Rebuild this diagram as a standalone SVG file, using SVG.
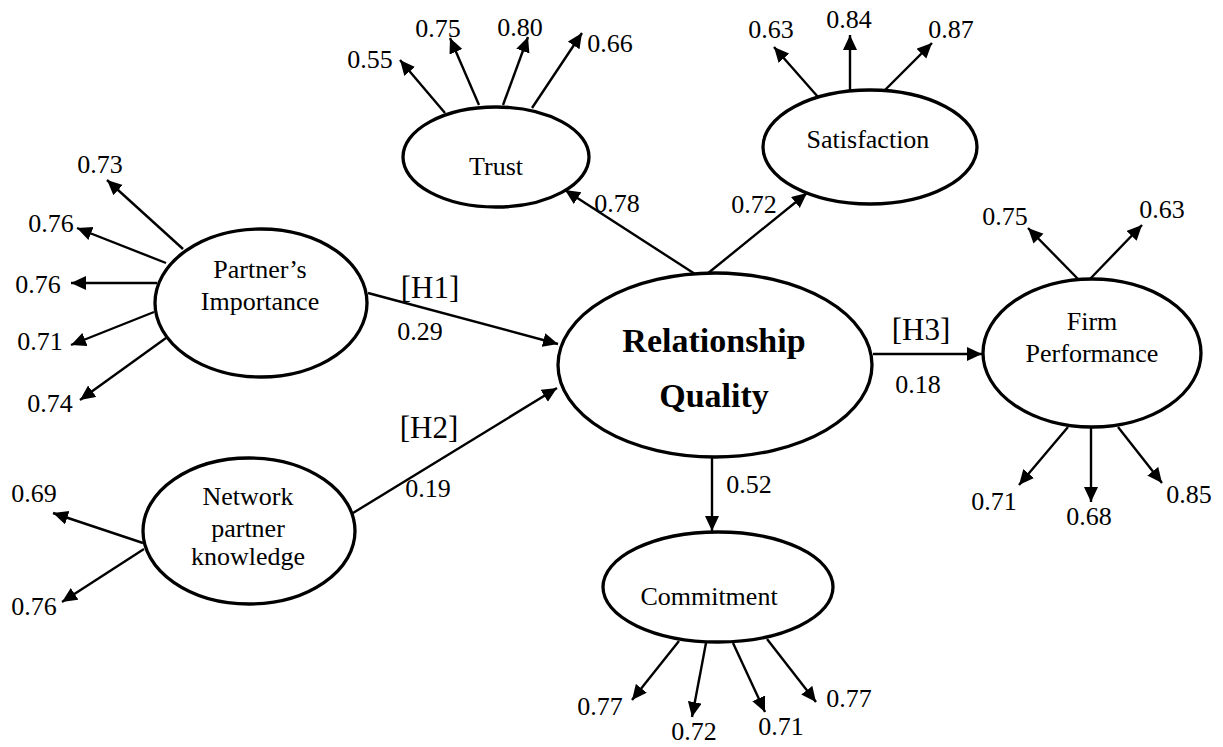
<svg xmlns="http://www.w3.org/2000/svg" width="1223" height="747" viewBox="0 0 1223 747">
<style>
.n{fill:#fff;stroke:#000;stroke-width:3.3}
.t{font-family:"Liberation Serif","Times New Roman",serif;font-size:26px;fill:#000;text-anchor:middle}
.b{font-weight:bold;font-size:34px}
.h{font-size:31px}
.c line{stroke:#000;stroke-width:2.4;marker-end:url(#ah)}
</style>
<defs>
<marker id="ah" markerUnits="userSpaceOnUse" markerWidth="16" markerHeight="15" refX="15" refY="7" orient="auto">
<path d="M0,0 L15,7 L0,14 z" fill="#000"/>
</marker>
</defs>
<rect width="1223" height="747" fill="#fff"/>
<g id="connectors" class="c">
<line x1="445" y1="113" x2="400" y2="60"/>
<line x1="479" y1="105" x2="450" y2="38"/>
<line x1="503" y1="105" x2="528" y2="37"/>
<line x1="532" y1="108" x2="582" y2="33"/>
<line x1="818" y1="97" x2="774" y2="47"/>
<line x1="850" y1="90" x2="850" y2="35"/>
<line x1="885" y1="90" x2="932" y2="43"/>
<line x1="183" y1="249" x2="107" y2="180"/>
<line x1="166" y1="263" x2="77" y2="228"/>
<line x1="157" y1="283" x2="71" y2="283"/>
<line x1="154" y1="312" x2="71" y2="345"/>
<line x1="166" y1="338" x2="80" y2="400"/>
<line x1="143" y1="543" x2="53" y2="513"/>
<line x1="144" y1="549" x2="62" y2="602"/>
<line x1="695" y1="274" x2="565" y2="190"/>
<line x1="707" y1="274" x2="807" y2="193"/>
<line x1="368" y1="293" x2="558" y2="344"/>
<line x1="353" y1="513" x2="557" y2="388"/>
<line x1="873" y1="354" x2="982" y2="354"/>
<line x1="712" y1="457" x2="712" y2="531"/>
<line x1="1079" y1="280" x2="1028" y2="228"/>
<line x1="1090" y1="279" x2="1142" y2="225"/>
<line x1="1068" y1="427" x2="1019" y2="485"/>
<line x1="1091" y1="428" x2="1091" y2="502"/>
<line x1="1118" y1="427" x2="1162" y2="483"/>
<line x1="679" y1="641" x2="632" y2="700"/>
<line x1="706" y1="643" x2="692" y2="717"/>
<line x1="733" y1="643" x2="765" y2="712"/>
<line x1="767" y1="639" x2="816" y2="702"/>
</g>
<g id="trust"><ellipse class="n" cx="496" cy="157" rx="93" ry="50"/><text class="t" x="496" y="175">Trust</text></g>
<g id="satisfaction"><ellipse class="n" cx="870" cy="147" rx="107" ry="57"/><text class="t" x="868" y="148">Satisfaction</text></g>
<g id="partners-importance"><ellipse class="n" cx="261" cy="303" rx="106" ry="74"/><text class="t" x="260" y="278">Partner’s</text><text class="t" x="260" y="310">Importance</text></g>
<g id="network-partner-knowledge"><ellipse class="n" cx="249" cy="531" rx="106" ry="73"/><text class="t" x="248" y="505">Network</text><text class="t" x="248" y="537">partner</text><text class="t" x="248" y="565">knowledge</text></g>
<g id="relationship-quality"><ellipse class="n" cx="715" cy="365" rx="157" ry="92"/><text class="t b" x="714" y="352">Relationship</text><text class="t b" x="714" y="407">Quality</text></g>
<g id="firm-performance"><ellipse class="n" cx="1092" cy="353" rx="109" ry="74"/><text class="t" x="1092" y="330">Firm</text><text class="t" x="1092" y="362">Performance</text></g>
<g id="commitment"><ellipse class="n" cx="718" cy="587" rx="115" ry="55"/><text class="t" x="709" y="605">Commitment</text></g>
<g id="labels" class="t">
<text class="t" x="370" y="68">0.55</text>
<text class="t" x="438" y="37">0.75</text>
<text class="t" x="520" y="36">0.80</text>
<text class="t" x="610" y="52">0.66</text>
<text class="t" x="771" y="38">0.63</text>
<text class="t" x="849" y="28">0.84</text>
<text class="t" x="951" y="38">0.87</text>
<text class="t" x="100" y="173">0.73</text>
<text class="t" x="51" y="232">0.76</text>
<text class="t" x="38" y="293">0.76</text>
<text class="t" x="40" y="350">0.71</text>
<text class="t" x="50" y="412">0.74</text>
<text class="t" x="34" y="502">0.69</text>
<text class="t" x="34" y="615">0.76</text>
<text class="t" x="1005" y="225">0.75</text>
<text class="t" x="1162" y="218">0.63</text>
<text class="t" x="994" y="510">0.71</text>
<text class="t" x="1089" y="525">0.68</text>
<text class="t" x="1189" y="503">0.85</text>
<text class="t" x="600" y="715">0.77</text>
<text class="t" x="694" y="740">0.72</text>
<text class="t" x="781" y="735">0.71</text>
<text class="t" x="849" y="707">0.77</text>
<text class="t" x="617" y="212">0.78</text>
<text class="t" x="754" y="213">0.72</text>
<text class="t h" x="430" y="298">[H1]</text>
<text class="t" x="420" y="340">0.29</text>
<text class="t h" x="429" y="438">[H2]</text>
<text class="t" x="428" y="497">0.19</text>
<text class="t h" x="921" y="340">[H3]</text>
<text class="t" x="918" y="393">0.18</text>
<text class="t" x="749" y="493">0.52</text>
</g>
</svg>
